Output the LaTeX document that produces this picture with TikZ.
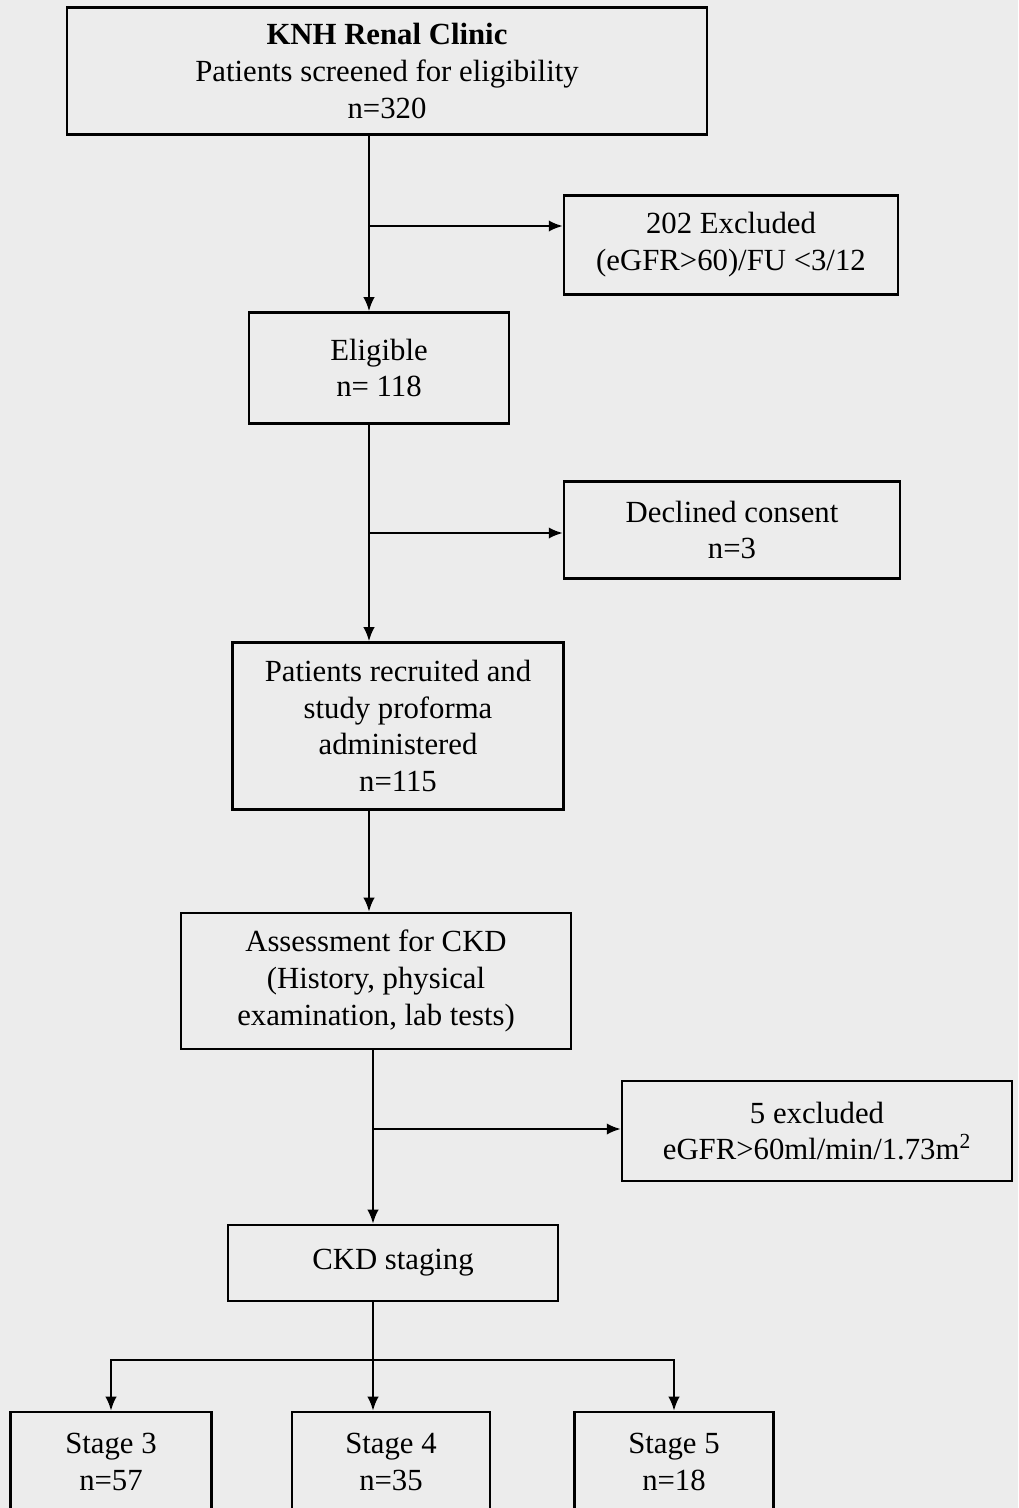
\documentclass[tikz,border=0pt]{standalone}
\usepackage{fontspec}
\setmainfont{Liberation Serif}
\usetikzlibrary{arrows.meta, positioning}
\definecolor{scanbg}{RGB}{236,236,236}
\tikzstyle{stepbox} = [rectangle, draw=black, line width=1.4pt, align=center, inner sep=0pt, font=\fontsize{17.5}{21}\selectfont]
\tikzstyle{link} = [line width=1.3pt]
\tikzstyle{flow} = [link, -{Latex[length=8pt, width=6.5pt]}]

\begin{document}
\begin{tikzpicture}[x=0.02cm, y=-0.02cm]
    \clip (0,0) rectangle (1018,1508);
    \fill[scanbg] (0,0) rectangle (1018,1508);

    \node[stepbox, minimum width=12.8cm, minimum height=2.54cm] (clinic) at (387,71) {\textbf{KNH Renal Clinic}\\Patients screened for eligibility\\n=320};
    \node[stepbox, minimum width=6.68cm, minimum height=1.98cm] (excluded) at (731,245) {202 Excluded\\(eGFR>60)/FU <3/12};
    \node[stepbox, minimum width=5.2cm, minimum height=2.22cm] (eligible) at (379,368) {Eligible\\n= 118};
    \node[stepbox, minimum width=6.72cm, minimum height=1.94cm] (declined) at (732,530) {Declined consent\\n=3};
    \node[stepbox, minimum width=6.62cm, minimum height=3.34cm] (recruited) at (398,726) {Patients recruited and\\study proforma\\administered\\n=115};
    \node[stepbox, minimum width=7.8cm, minimum height=2.72cm] (assessment) at (376,981) {Assessment for CKD\\(History, physical\\examination, lab tests)};
    \node[stepbox, minimum width=7.8cm, minimum height=2cm] (excludedLab) at (817,1131) {5 excluded\\eGFR>60ml/min/1.73m\textsuperscript{2}};
    \node[stepbox, minimum width=6.6cm, minimum height=1.52cm] (staging) at (393,1263) {CKD staging};

    \node[stepbox, minimum width=4.02cm, minimum height=2cm] (stage3) at (111,1462) {Stage 3\\n=57};
    \node[stepbox, minimum width=3.96cm, minimum height=2cm] (stage4) at (391,1462) {Stage 4\\n=35};
    \node[stepbox, minimum width=3.98cm, minimum height=2cm] (stage5) at (674,1462) {Stage 5\\n=18};

    % branch points
    \coordinate (split1) at (369,226);
    \coordinate (split2) at (369,533);
    \coordinate (split3) at (373,1129);
    \coordinate (split4) at (373,1360);

    \draw[link] (clinic.south -| split1) -- (split1);
    \draw[flow] (split1) -- (eligible.north -| split1);
    \draw[flow] (split1) -- (excluded.west |- split1);

    \draw[link] (eligible.south -| split2) -- (split2);
    \draw[flow] (split2) -- (recruited.north -| split2);
    \draw[flow] (split2) -- (declined.west |- split2);

    \draw[flow] (recruited.south -| split2) -- (assessment.north -| split2);

    \draw[link] (assessment.south -| split3) -- (split3);
    \draw[flow] (split3) -- (staging.north -| split3);
    \draw[flow] (split3) -- (excludedLab.west |- split3);

    \draw[link] (staging.south -| split4) -- (split4);
    \draw[flow] (split4) -- (stage4.north -| split4);
    \draw[flow] (split4) -| (stage3.north);
    \draw[flow] (split4) -| (stage5.north);
\end{tikzpicture}
\end{document}
